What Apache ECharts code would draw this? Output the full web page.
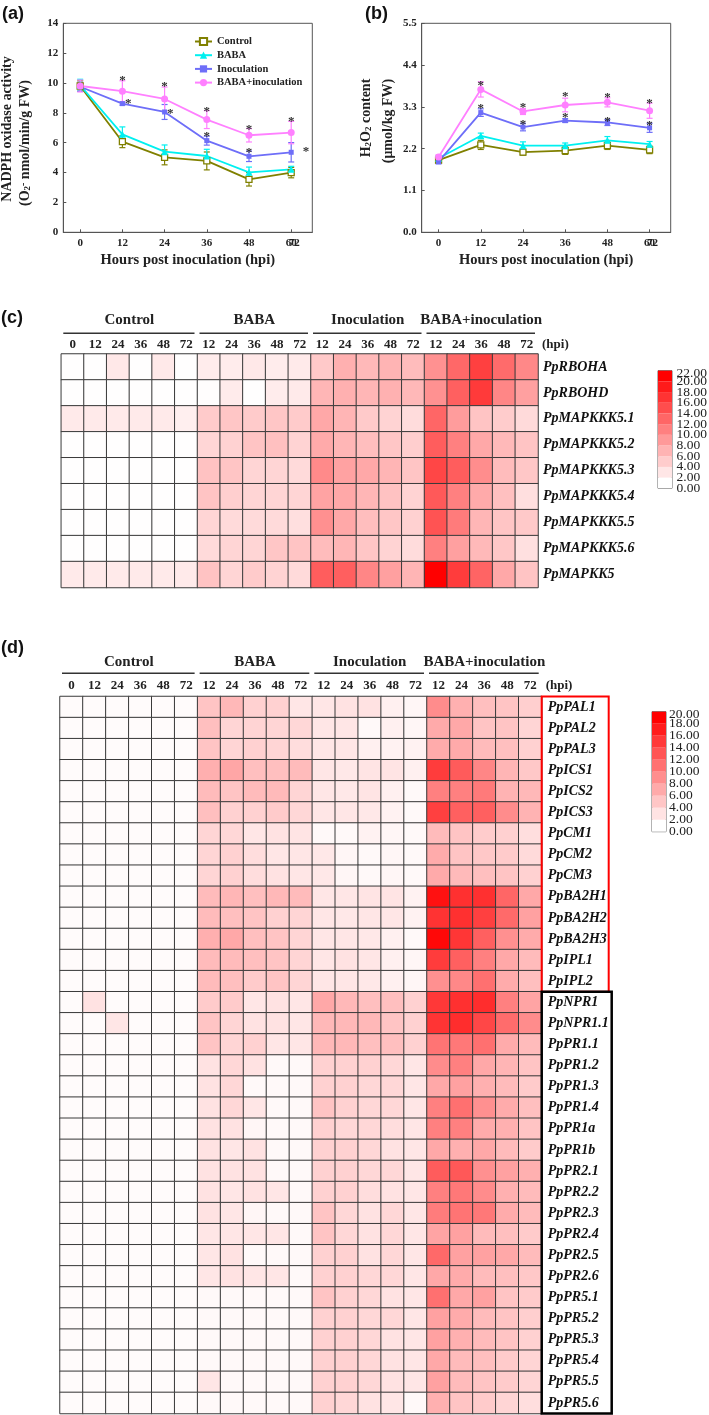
<!DOCTYPE html>
<html><head><meta charset="utf-8">
<script src="https://cdn.jsdelivr.net/npm/echarts@6/dist/echarts.min.js"></script>
<style>html,body{margin:0;padding:0;background:#fff}#c{width:709px;height:1415px}</style>
</head><body><div id="c"></div>
<script>
// ---------------- DATA ----------------
const hours = ['0','12','24','36','48','72'];
const hourPos = [0,12,24,36,48,60];
const seriesNames = ['Control','BABA','Inoculation','BABA+inoculation'];

const nadphControl = [9.8, 6.07, 5.02, 4.78, 3.55, 4.0];
const nadphControlErr = [0.35, 0.4, 0.5, 0.6, 0.45, 0.35];
const nadphBABA = [9.85, 6.56, 5.4, 5.11, 4.02, 4.22];
const nadphBABAErr = [0.4, 0.5, 0.45, 0.45, 0.35, 0.2];
const nadphInoc = [9.75, 8.62, 8.06, 6.14, 5.09, 5.36];
const nadphInocErr = [0.3, 0.1, 0.5, 0.3, 0.35, 0.65];
const nadphBI = [9.8, 9.45, 8.93, 7.55, 6.5, 6.68];
const nadphBIErr = [0.4, 0.7, 0.8, 0.6, 0.45, 0.75];
const nadphStars = [[12,10.43],[13.7,8.86],[24,10.02],[25.6,8.19],[36,8.35],[36,6.70],[48,7.12],[48,5.63],[60,7.70],[64.2,5.67]];

const h2o2Control = [1.9, 2.30, 2.11, 2.15, 2.28, 2.17];
const h2o2ControlErr = [0.08, 0.12, 0.08, 0.1, 0.1, 0.1];
const h2o2BABA = [1.95, 2.54, 2.28, 2.28, 2.42, 2.32];
const h2o2BABAErr = [0.07, 0.07, 0.1, 0.07, 0.1, 0.07];
const h2o2Inoc = [1.86, 3.15, 2.77, 2.94, 2.89, 2.75];
const h2o2InocErr = [0.06, 0.1, 0.1, 0.05, 0.08, 0.12];
const h2o2BI = [1.98, 3.76, 3.18, 3.35, 3.42, 3.20];
const h2o2BIErr = [0.06, 0.2, 0.08, 0.18, 0.12, 0.2];
const h2o2Stars = [[12,3.96],[12,3.35],[24,3.38],[24,2.94],[36,3.68],[36,3.11],[48,3.64],[48,3.03],[60,3.48],[60,2.91]];

const heatGroups = ['Control','BABA','Inoculation','BABA+inoculation'];
const heatGroupSpans = [6,5,5,5];
const heatHourLabels = ['0','12','24','36','48','72','12','24','36','48','72','12','24','36','48','72','12','24','36','48','72'];

const heatCGenes = ['PpRBOHA','PpRBOHD','PpMAPKKK5.1','PpMAPKKK5.2','PpMAPKKK5.3','PpMAPKKK5.4','PpMAPKKK5.5','PpMAPKKK5.6','PpMAPKK5'];
const heatCValues = [
  [0.1,0.1,2.0,0.1,1.9,0.1, 1.6,1.6,2.0,1.6,1.8, 4.7,6.8,6.0,6.5,5.8, 9.5,13.0,16.5,12.8,10.3],
  [0.1,0.1,0.1,0.1,0.1,0.1, 0.2,1.7,0.1,1.6,1.8, 6.3,6.8,6.3,6.7,6.1, 9.5,13.7,17.0,10.4,8.2],
  [1.8,1.8,1.8,1.8,1.8,1.4, 4.5,4.9,4.5,4.9,4.5, 7.5,6.4,4.6,3.8,3.0, 13.2,8.5,5.1,4.4,3.2],
  [0.1,0.1,0.1,0.1,0.1,0.1, 3.5,3.9,5.1,5.4,3.8, 7.3,6.3,5.6,4.9,4.2, 14.0,11.0,7.5,6.0,5.1],
  [0.1,0.1,0.1,0.1,0.1,0.1, 5.3,5.0,3.6,3.6,3.2, 10.1,8.0,7.5,6.4,5.0, 16.0,14.0,9.8,5.8,4.8],
  [0.1,0.1,0.1,0.1,0.1,0.1, 5.1,4.1,3.6,3.6,3.6, 7.9,7.5,6.3,5.3,3.8, 14.3,11.0,7.3,5.4,2.8],
  [0.1,0.1,0.1,0.1,0.1,0.1, 3.6,3.2,3.2,3.2,2.8, 9.6,7.5,5.6,4.9,4.0, 14.8,11.4,6.3,5.0,4.7],
  [0.1,0.1,0.1,0.1,0.1,0.1, 3.2,3.6,3.6,4.9,5.1, 5.8,6.3,4.9,3.8,3.0, 11.0,8.2,6.0,4.8,2.7],
  [1.8,1.8,1.8,1.8,1.8,1.8, 5.2,3.6,4.5,3.8,3.2, 14.0,13.8,10.4,8.2,6.4, 22.0,16.8,13.4,7.5,5.1]
];
const heatCTicks = [0,2,4,6,8,10,12,14,16,18,20,22];

const heatDGenes = ['PpPAL1','PpPAL2','PpPAL3','PpICS1','PpICS2','PpICS3','PpCM1','PpCM2','PpCM3','PpBA2H1','PpBA2H2','PpBA2H3','PpIPL1','PpIPL2',
  'PpNPR1','PpNPR1.1','PpPR1.1','PpPR1.2','PpPR1.3','PpPR1.4','PpPR1a','PpPR1b','PpPR2.1','PpPR2.2','PpPR2.3','PpPR2.4','PpPR2.5','PpPR2.6',
  'PpPR5.1','PpPR5.2','PpPR5.3','PpPR5.4','PpPR5.5','PpPR5.6'];
const heatDValues = [
  [0.3,0.3,0.3,0.3,0.3,0.3, 4.6,5.6,3.6,3.6,2.0, 2.0,2.3,2.3,1.2,0.7, 9.0,6.2,5.0,4.6,3.8],
  [0.3,0.3,0.3,0.3,0.3,0.3, 5.0,3.3,3.4,3.3,3.1, 2.0,2.0,0.5,1.2,0.7, 6.7,6.8,4.6,4.6,3.3],
  [0.3,0.3,0.3,0.3,0.3,0.3, 4.6,3.3,3.6,3.3,2.7, 2.0,2.0,1.2,1.0,1.0, 6.6,6.7,5.3,5.0,3.6],
  [0.3,0.3,0.3,0.3,0.3,0.3, 6.3,7.0,5.0,5.0,5.3, 2.0,1.8,2.1,2.1,1.2, 15.3,12.9,9.5,5.8,4.3],
  [0.3,0.3,0.3,0.3,0.3,0.3, 5.3,4.6,5.3,5.4,3.3, 2.0,1.8,2.1,1.2,0.5, 10.0,10.0,10.4,6.0,5.6],
  [0.3,0.3,0.3,0.3,0.3,0.3, 5.0,3.6,3.6,4.1,3.1, 2.0,2.0,1.8,1.0,0.5, 15.0,12.5,12.5,9.0,6.0],
  [0.3,0.3,0.3,0.3,0.3,0.3, 3.3,3.1,2.0,2.3,2.1, 0.5,0.5,1.0,0.7,0.5, 5.3,4.6,4.0,3.7,2.6],
  [0.3,0.3,0.3,0.3,0.3,0.3, 3.3,3.6,2.7,2.0,2.0, 1.8,0.7,0.5,0.7,0.5, 6.6,4.6,4.3,4.1,2.9],
  [0.3,0.3,0.3,0.3,0.3,0.3, 3.3,3.6,2.7,2.3,2.0, 1.8,0.7,0.5,0.7,0.5, 6.7,5.4,5.0,4.6,3.6],
  [0.3,0.3,0.3,0.3,0.3,0.3, 5.3,5.7,5.0,5.6,5.3, 2.0,2.0,2.1,2.1,1.0, 18.7,16.2,16.2,12.0,6.8],
  [0.3,0.3,0.3,0.3,0.3,0.3, 5.3,5.0,4.6,3.6,3.3, 2.0,1.8,2.0,2.0,1.0, 16.0,16.2,15.0,11.7,7.4],
  [0.3,0.3,0.3,0.3,0.3,0.3, 6.3,6.8,5.0,4.6,3.3, 2.0,2.0,1.8,1.2,0.5, 19.4,15.8,12.5,8.7,6.6],
  [0.3,0.3,0.3,0.3,0.3,0.3, 5.3,5.3,5.0,4.6,3.3, 2.0,2.3,2.0,1.2,0.7, 15.3,12.5,10.0,6.8,5.3],
  [0.3,0.3,0.3,0.3,0.3,0.3, 5.3,5.0,4.1,4.6,3.3, 2.0,2.0,1.8,1.2,0.7, 8.7,9.3,11.2,6.6,5.0],
  [0.3,2.3,0.3,0.3,0.3,0.3, 4.1,4.1,2.0,2.3,2.0, 6.8,5.6,5.0,5.0,3.6, 15.6,16.2,16.5,10.0,7.1],
  [0.3,0.3,2.0,0.3,0.3,0.3, 4.6,3.3,2.3,2.3,2.0, 5.6,5.6,5.6,4.6,3.6, 15.9,16.5,14.4,11.5,9.0],
  [0.3,0.3,0.3,0.3,0.3,0.3, 4.6,3.3,3.6,2.0,2.0, 5.6,5.6,5.0,5.0,3.6, 10.9,10.6,11.2,6.6,5.3],
  [0.3,0.3,0.3,0.3,0.3,0.3, 2.3,3.1,2.3,0.5,0.5, 3.6,3.6,3.6,3.1,2.0, 9.0,10.0,6.8,5.8,4.6],
  [0.3,0.3,0.3,0.3,0.3,0.3, 2.3,3.1,0.5,0.5,0.5, 3.6,3.6,3.1,3.1,2.0, 6.8,7.4,6.2,5.3,4.1],
  [0.3,0.3,0.3,0.3,0.3,0.3, 2.3,3.1,2.0,0.5,0.5, 4.6,3.6,3.1,3.1,2.0, 10.0,11.2,8.7,6.6,5.0],
  [0.3,0.3,0.3,0.3,0.3,0.3, 2.3,2.3,0.7,0.5,0.5, 3.6,3.1,3.1,2.7,2.0, 10.0,10.0,6.6,6.2,4.6],
  [0.3,0.3,0.3,0.3,0.3,0.3, 2.3,2.0,2.3,0.5,0.5, 3.6,3.6,3.1,2.3,2.0, 6.8,6.2,6.8,5.3,4.1],
  [0.3,0.3,0.3,0.3,0.3,0.3, 2.3,2.3,2.3,0.5,0.5, 3.6,3.6,3.1,3.1,2.0, 12.8,13.1,8.7,7.4,6.2],
  [0.3,0.3,0.3,0.3,0.3,0.3, 2.3,2.0,2.3,2.0,0.5, 3.6,3.6,2.7,2.3,2.0, 10.0,10.6,9.0,6.2,5.3],
  [0.3,0.3,0.3,0.3,0.3,0.3, 2.3,2.0,0.7,0.5,0.5, 4.6,3.1,2.3,3.1,2.0, 10.3,10.9,10.6,6.6,5.3],
  [0.3,0.3,0.3,0.3,0.3,0.3, 2.0,2.0,2.0,2.0,0.5, 4.6,3.1,2.3,3.1,2.0, 7.1,7.4,5.3,5.0,4.1],
  [0.3,0.3,0.3,0.3,0.3,0.3, 2.0,2.3,0.5,0.5,0.5, 3.6,3.6,2.3,3.1,2.0, 11.8,7.4,7.4,6.8,5.3],
  [0.3,0.3,0.3,0.3,0.3,0.3, 2.0,2.3,2.0,2.0,0.5, 3.6,3.6,3.1,3.1,2.0, 6.8,6.6,5.3,5.0,4.3],
  [0.3,0.3,0.3,0.3,0.3,0.3, 0.5,0.5,0.5,0.5,0.5, 4.6,3.6,3.1,2.3,2.0, 11.2,6.8,7.4,4.6,4.1],
  [0.3,0.3,0.3,0.3,0.3,0.3, 0.5,0.5,0.5,0.5,0.5, 3.6,3.6,3.1,3.1,2.0, 7.4,6.6,5.3,4.6,3.8],
  [0.3,0.3,0.3,0.3,0.3,0.3, 0.5,0.5,0.5,0.5,0.5, 3.6,3.6,3.1,2.3,2.0, 7.4,6.2,5.3,4.6,3.6],
  [0.3,0.3,0.3,0.3,0.3,0.3, 0.5,0.5,0.5,0.5,0.5, 3.6,3.6,3.1,2.3,2.0, 6.8,5.3,5.0,4.1,3.3],
  [0.3,0.3,0.3,0.3,0.3,0.3, 2.0,0.5,0.5,0.5,0.5, 3.6,3.6,3.1,2.3,2.0, 7.4,5.3,4.6,4.1,3.3],
  [0.3,0.3,0.3,0.3,0.3,0.3, 0.5,0.5,0.5,0.5,0.5, 3.6,3.1,2.3,2.0,0.5, 6.2,4.6,4.1,3.3,2.6]
];
const heatDTicks = [0,2,4,6,8,10,12,14,16,18,20];
const heatDRedRows = 14;

// ---------------- STYLE / LAYOUT ----------------
const SERIF = "'Liberation Serif','Times New Roman',serif";
const SANS = "'Liberation Sans',Arial,sans-serif";
const colControl = '#808000', colBABA = '#00f0f0', colInoc = '#6e6ef8', colBI = '#ff80ff';
const LA = {left:63.3, top:23.3, width:249, height:209};
const LB = {left:421.7, top:23.3, width:249, height:209};
const LC = {left:61.3, top:354, width:476.7, height:233.5};
const LCbar = {left:658, top:370.7, width:14, height:117.6};
const LD = {left:60, top:696.5, width:481.7, height:717};
const LDbar = {left:652, top:711.7, width:14, height:120};
const xMin = -4.8, xMax = 66;
const WHITE_RED = ['#ffffff', '#ff0000'];

const chart = echarts.init(document.getElementById('c'));

function lineAxisX(grid) {
  return [{
    type:'value', gridIndex:grid, min:xMin, max:xMax, position:'bottom',
    axisLine:{show:true, onZero:false, lineStyle:{color:'#555', width:1}},
    axisTick:{show:true, inside:true, length:3, customValues:hourPos, lineStyle:{color:'#555'}},
    axisLabel:{customValues:hourPos, margin:5, fontFamily:SERIF, fontWeight:'bold', fontSize:11, color:'#222',
      formatter:v=>String(v)},
    splitLine:{show:false}
  },{
    type:'value', gridIndex:grid, min:xMin, max:xMax, position:'bottom',
    axisLine:{show:false, onZero:false}, axisTick:{show:false}, splitLine:{show:false},
    axisLabel:{customValues:[hourPos[hourPos.length-1]], margin:5, fontFamily:SERIF, fontWeight:'bold', fontSize:11, color:'#222',
      padding:[0,0,0,6], formatter:()=>hours[hours.length-1]}
  }];
}
function lineSeries(name, vals, xi, yi, color, symbol, size, filled) {
  return {type:'line', name, xAxisIndex:xi, yAxisIndex:yi, data: vals.map((v,i)=>[hourPos[i], v]),
    symbol, symbolSize:size, z:3,
    lineStyle:{color, width:1.8},
    itemStyle:{color: filled ? color : '#ffffff', borderColor:color, borderWidth: filled?0:1.3},
    emphasis:{disabled:true}};
}
function errSeries(vals, errs, xi, yi, color) {
  return {type:'custom', xAxisIndex:xi, yAxisIndex:yi, silent:true, z:2,
    data: vals.map((v,i)=>[hourPos[i], v, errs[i]]),
    renderItem:(params, api)=>{
      const x = api.value(0), v = api.value(1), e = api.value(2);
      const t = api.coord([x, v+e]), b = api.coord([x, v-e]);
      const w = 3, st = {stroke:color, lineWidth:1.2};
      return {type:'group', children:[
        {type:'line', shape:{x1:t[0],y1:t[1],x2:b[0],y2:b[1]}, style:st},
        {type:'line', shape:{x1:t[0]-w,y1:t[1],x2:t[0]+w,y2:t[1]}, style:st},
        {type:'line', shape:{x1:b[0]-w,y1:b[1],x2:b[0]+w,y2:b[1]}, style:st}
      ]};
    }};
}
function starSeries(pts, xi, yi) {
  return {type:'custom', xAxisIndex:xi, yAxisIndex:yi, data:pts, silent:true, z:4,
    renderItem:(params, api)=>{
      const p = api.coord([api.value(0), api.value(1)]);
      return {type:'text', x:p[0], y:p[1]+4, style:{text:'*', fontFamily:SERIF, fontSize:13, fontWeight:'bold', fill:'#333', align:'center', verticalAlign:'middle'}};
    }};
}
function heatLayoutAxes(L, grid, genes, labelMargin, rowMargin) {
  return {
    x: {type:'category', gridIndex:grid, position:'top', data: heatHourLabels.map((h,i)=>String(i)),
      axisLine:{show:false}, axisTick:{show:false}, splitLine:{show:false},
      axisLabel:{interval:0, margin:labelMargin, fontFamily:SERIF, fontWeight:'bold', fontSize:13, color:'#222',
        formatter:(v)=>heatHourLabels[+v]}},
    y: {type:'category', gridIndex:grid, position:'right', inverse:true, data:genes,
      axisLine:{show:false}, axisTick:{show:false}, splitLine:{show:false},
      axisLabel:{interval:0, margin:rowMargin, fontFamily:SERIF, fontWeight:'bold', fontStyle:'italic', fontSize:14, color:'#111'}}
  };
}
function barAxes(grid, ticks) {
  return {
    x: {type:'category', gridIndex:grid, data:[''], show:false},
    y: {type:'value', gridIndex:grid, position:'right', min:ticks[0], max:ticks[ticks.length-1], interval:ticks[1]-ticks[0],
      axisLine:{show:false}, axisTick:{show:false}, splitLine:{show:false}, axisLabel:{show:false}}
  };
}
function barSeries(xi, yi, ticks) {
  const top = ticks[ticks.length-1], step = ticks[1]-ticks[0];
  return {type:'custom', xAxisIndex:xi, yAxisIndex:yi, silent:true,
    data: ticks.slice(0,-1).map(t=>[0, t]),
    renderItem:(params, api)=>{
      const lo = api.value(1);
      const p1 = api.coord([0, lo]), p2 = api.coord([0, lo+step]);
      const cs = params.coordSys;
      const col = echarts.color.lerp(lo/(top-step), WHITE_RED);
      return {type:'rect', shape:{x:cs.x, y:p2[1], width:cs.width, height:p1[1]-p2[1]}, style:{fill:col}};
    }};
}
function barLabelSeries(xi, yi, ticks, dx) {
  const top = ticks[ticks.length-1];
  return {type:'custom', xAxisIndex:xi, yAxisIndex:yi, silent:true, clip:false,
    data: ticks.map(t=>[0, t]),
    renderItem:(params, api)=>{
      const t = api.value(1);
      const p = api.coord([0, t]);
      const cs = params.coordSys;
      const y = t === top ? p[1] + 3 : p[1];
      return {type:'text', x:cs.x + cs.width + dx, y, style:{text:t.toFixed(2), fontFamily:SERIF, fontSize:13.5, fill:'#222', align:'left', verticalAlign:'middle'}};
    }};
}
function heatSeries(values, xi, yi) {
  const data = [];
  values.forEach((row,r)=>row.forEach((v,c)=>data.push([c, r, v])));
  return {type:'heatmap', xAxisIndex:xi, yAxisIndex:yi, data,
    itemStyle:{borderColor:'#3a3a3a', borderWidth:1}, emphasis:{disabled:true}};
}
function headerGraphics(L, headerY, lineY, labelY) {
  const cw = L.width/heatHourLabels.length;
  const out = [];
  let start = 0;
  heatGroups.forEach((g,i)=>{
    const x0 = L.left + start*cw, x1 = x0 + heatGroupSpans[i]*cw;
    out.push({type:'text', x:(x0+x1)/2, y:headerY, style:{text:g, fontFamily:SERIF, fontWeight:'bold', fontSize:15, fill:'#222', align:'center', verticalAlign:'middle'}});
    out.push({type:'line', shape:{x1:x0+2, y1:lineY, x2:x1-3, y2:lineY}, style:{stroke:'#333', lineWidth:1.6}});
    start += heatGroupSpans[i];
  });
  out.push({type:'text', x:L.left+L.width+4, y:labelY, style:{text:'(hpi)', fontFamily:SERIF, fontWeight:'bold', fontSize:13, fill:'#222', align:'left', verticalAlign:'middle'}});
  return out;
}

// ---------------- BUILD ----------------
const xAxes = [], yAxes = [], series = [];
xAxes.push(...lineAxisX(0)); // 0,1
xAxes.push(...lineAxisX(1)); // 2,3
const yAx = (grid, max, interval, fmt) => ({type:'value', gridIndex:grid, min:0, max, interval,
  axisLine:{show:true, onZero:false, lineStyle:{color:'#555'}}, axisTick:{show:true, inside:true, length:3, lineStyle:{color:'#555'}},
  splitLine:{show:false},
  axisLabel:{margin:5, fontFamily:SERIF, fontWeight:'bold', fontSize:11, color:'#222', formatter:fmt}});
yAxes.push(yAx(0, 14, 2, v=>String(v)));
yAxes.push(yAx(1, 5.5, 1.1, v=>v.toFixed(1)));

const hc = heatLayoutAxes(LC, 2, heatCGenes, 3, 5);
xAxes.push(hc.x); yAxes.push(hc.y); // x4, y2
const bc = barAxes(3, heatCTicks);
xAxes.push(bc.x); yAxes.push(bc.y); // x5, y3
const hd = heatLayoutAxes(LD, 4, heatDGenes, 4.3, 6);
xAxes.push(hd.x); yAxes.push(hd.y); // x6, y4
const bd = barAxes(5, heatDTicks);
xAxes.push(bd.x); yAxes.push(bd.y); // x7, y5

const specs = [
  ['Control', nadphControl, nadphControlErr, h2o2Control, h2o2ControlErr, colControl, 'rect', 6, false],
  ['BABA', nadphBABA, nadphBABAErr, h2o2BABA, h2o2BABAErr, colBABA, 'triangle', 7, true],
  ['Inoculation', nadphInoc, nadphInocErr, h2o2Inoc, h2o2InocErr, colInoc, 'rect', 5, true],
  ['BABA+inoculation', nadphBI, nadphBIErr, h2o2BI, h2o2BIErr, colBI, 'circle', 7, true]
];
specs.forEach(s=>series.push(lineSeries(s[0], s[1], 0, 0, s[5], s[6], s[7], s[8])));
specs.forEach(s=>series.push(errSeries(s[1], s[2], 0, 0, s[5])));
series.push(starSeries(nadphStars, 0, 0));
specs.forEach(s=>series.push(lineSeries(s[0], s[3], 2, 1, s[5], s[6], s[7], s[8])));
specs.forEach(s=>series.push(errSeries(s[3], s[4], 2, 1, s[5])));
series.push(starSeries(h2o2Stars, 2, 1));
const heatCIndex = series.length; series.push(heatSeries(heatCValues, 4, 2));
series.push(barSeries(5, 3, heatCTicks));
series.push(barLabelSeries(5, 3, heatCTicks, 4.5));
const heatDIndex = series.length; series.push(heatSeries(heatDValues, 6, 4));
series.push(barSeries(7, 5, heatDTicks));
series.push(barLabelSeries(7, 5, heatDTicks, 3));

const titleStyle = {fontFamily:SERIF, fontWeight:'bold', fontSize:14, fill:'#222', align:'center', verticalAlign:'middle',
  rich:{s:{fontFamily:SERIF, fontWeight:'bold', fontSize:9, fill:'#222', verticalAlign:'bottom', lineHeight:9},
        p:{fontFamily:SERIF, fontWeight:'bold', fontSize:10, fill:'#222', verticalAlign:'top', lineHeight:9}}};
const panelLabel = (t,x,y)=>({type:'text', x, y, style:{text:t, fontFamily:SANS, fontWeight:'bold', fontSize:18, fill:'#111', align:'left', verticalAlign:'middle'}});

const graphic = [
  panelLabel('(a)', 2, 14), panelLabel('(b)', 365, 14), panelLabel('(c)', 1, 318), panelLabel('(d)', 1, 648),
  {type:'text', x:7.5, y:129, rotation:Math.PI/2, style:Object.assign({}, titleStyle, {text:'NADPH oxidase activity'})},
  {type:'text', x:25.5, y:143, rotation:Math.PI/2, style:Object.assign({}, titleStyle, {text:'(O{s|2}{p|-} nmol/min/g FW)'})},
  {type:'text', x:366, y:118, rotation:Math.PI/2, style:Object.assign({}, titleStyle, {text:'H{s|2}O{s|2} content'})},
  {type:'text', x:388, y:121, rotation:Math.PI/2, style:Object.assign({}, titleStyle, {text:'(μmol/kg FW)'})},
  {type:'text', x:LA.left+LA.width/2, y:260, style:Object.assign({}, titleStyle, {text:'Hours post inoculation (hpi)', fontSize:14.5})},
  {type:'text', x:LB.left+LB.width/2, y:260, style:Object.assign({}, titleStyle, {text:'Hours post inoculation (hpi)', fontSize:14.5})},
  ...headerGraphics(LC, 320, 333.3, 344.3),
  ...headerGraphics(LD, 661.7, 673.3, 685.7)
];
const rowH = LD.height/heatDGenes.length;
graphic.push({type:'rect', shape:{x:LD.left+LD.width, y:LD.top, width:67, height:heatDRedRows*rowH}, style:{fill:'none', stroke:'#ff0000', lineWidth:2}, z:10});
graphic.push({type:'rect', shape:{x:LD.left+LD.width, y:LD.top+heatDRedRows*rowH, width:70, height:(heatDGenes.length-heatDRedRows)*rowH}, style:{fill:'none', stroke:'#000', lineWidth:2.5}, z:10});

const option = {
  animation:false,
  backgroundColor:'#ffffff',
  grid:[
    Object.assign({show:true, borderColor:'#555', borderWidth:1, backgroundColor:'transparent'}, LA),
    Object.assign({show:true, borderColor:'#555', borderWidth:1, backgroundColor:'transparent'}, LB),
    Object.assign({}, LC),
    Object.assign({show:true, borderColor:'#666', borderWidth:1, backgroundColor:'transparent'}, LCbar),
    Object.assign({}, LD),
    Object.assign({show:true, borderColor:'#666', borderWidth:1, backgroundColor:'transparent'}, LDbar)
  ],
  xAxis:xAxes, yAxis:yAxes,
  legend:{data:seriesNames, left:189, top:31, orient:'vertical', itemGap:2.7, itemWidth:17, itemHeight:9,
    textStyle:{fontFamily:SERIF, fontWeight:'bold', fontSize:10.5, color:'#222'}, selectedMode:false},
  visualMap:[
    {show:false, type:'continuous', seriesIndex:heatCIndex, dimension:2, min:heatCTicks[0], max:heatCTicks[heatCTicks.length-1], inRange:{color:WHITE_RED}},
    {show:false, type:'continuous', seriesIndex:heatDIndex, dimension:2, min:heatDTicks[0], max:heatDTicks[heatDTicks.length-1], inRange:{color:WHITE_RED}}
  ],
  series, graphic
};
chart.setOption(option);
</script></body></html>
